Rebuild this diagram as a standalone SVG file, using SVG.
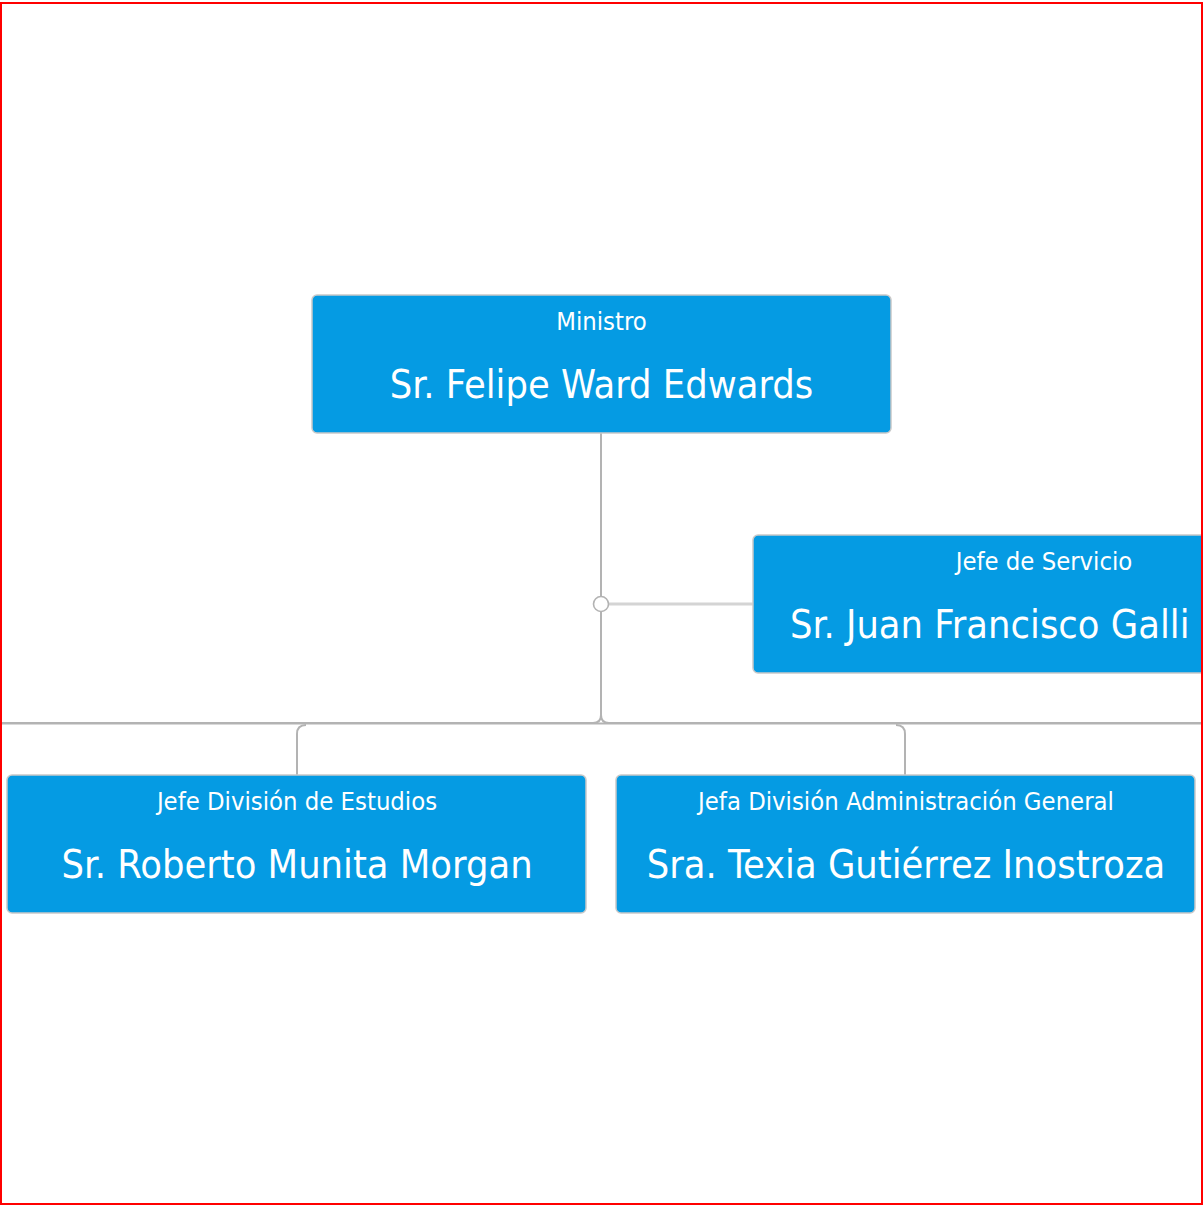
<svg xmlns="http://www.w3.org/2000/svg" width="1203" height="1205" viewBox="0 0 1203 1205">
<style>
.box{fill:#059be3;stroke:#c9c9c9;stroke-width:1.5}
.t{font-family:"DejaVu Sans Condensed","DejaVu Sans",sans-serif;font-stretch:condensed;fill:#ffffff}
.s{font-size:25.4px}
.n{font-size:39.4px}
.c{text-anchor:middle}
.ln{fill:none;stroke:#b3b3b3;stroke-width:2}
</style>
<rect width="1203" height="1205" fill="#ffffff"/>
<g id="connectors">
<path class="ln" d="M601 433 V715 Q601 723 593 723 H0"/>
<path class="ln" d="M601 715 Q601 723 609 723 H1203"/>
<path class="ln" stroke-width="2.8" d="M0 723.5 H1203"/>
<path class="ln" d="M306 725 Q297 725 297 734 V775"/>
<path class="ln" d="M896 725 Q905 725 905 734 V775"/>
<line x1="608" y1="604" x2="754" y2="604" stroke="#d4d4d4" stroke-width="3"/>
<circle cx="601" cy="604" r="7.5" fill="#ffffff" stroke="#b3b3b3" stroke-width="1.6"/>
</g>
<g id="ministro">
<rect class="box" x="312" y="295" width="579" height="138" rx="5"/>
<text class="t s c" x="601.5" y="330">Ministro</text>
<text class="t n c" x="601.5" y="398">Sr. Felipe Ward Edwards</text>
</g>
<g id="jefe-servicio">
<rect class="box" x="753" y="535" width="580" height="138" rx="5"/>
<text class="t s c" x="1044" y="570">Jefe de Servicio</text>
<text class="t n" x="790" y="638">Sr. Juan Francisco Galli</text>
</g>
<g id="jefe-estudios">
<rect class="box" x="7" y="775" width="579" height="138" rx="5"/>
<text class="t s c" x="297" y="810">Jefe División de Estudios</text>
<text class="t n c" x="297" y="878">Sr. Roberto Munita Morgan</text>
</g>
<g id="jefa-administracion">
<rect class="box" x="616" y="775" width="579" height="138" rx="5"/>
<text class="t s c" x="906" y="810">Jefa División Administración General</text>
<text class="t n c" x="906" y="878">Sra. Texia Gutiérrez Inostroza</text>
</g>
<rect x="1" y="3" width="1201" height="1201" fill="none" stroke="#ff0000" stroke-width="2"/>
</svg>
